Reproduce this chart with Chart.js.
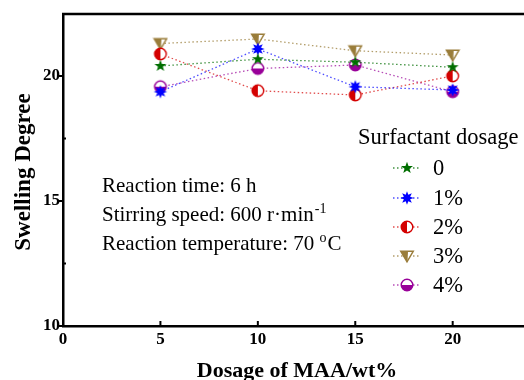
<!DOCTYPE html>
<html>
<head>
<meta charset="utf-8">
<script src="https://cdn.jsdelivr.net/npm/chart.js@4.4.0/dist/chart.umd.min.js"></script>
<style>
  html, body { margin: 0; padding: 0; background: #fff; overflow: hidden; }
  #wrap { width: 524px; height: 380px; }
</style>
</head>
<body>
<div id="wrap"><canvas id="swellChart" width="524" height="380"></canvas></div>
<script>
// data
const maaDosage = [5, 10, 15, 20];
const seriesNames = ['0', '1%', '2%', '3%', '4%'];
const swell0 = [20.40, 20.67, 20.55, 20.35];
const swell1 = [19.37, 21.08, 19.57, 19.44];
const swell2 = [20.88, 19.41, 19.24, 20.00];
const swell3 = [21.30, 21.48, 21.01, 20.84];
const swell4 = [19.57, 20.30, 20.44, 19.37];
const xTicks = [0, 5, 10, 15, 20];
const yTicks = [10, 15, 20];
const yMinorTicks = [12.5, 17.5];

const serif = '"Liberation Serif", "Times New Roman", serif';
const colors = ['#006e00', '#0000ff', '#d40000', '#9a7d3a', '#990099'];
const lineColors = ['rgba(0,110,0,0.75)', 'rgba(0,0,255,0.7)', 'rgba(212,0,0,0.7)', 'rgba(154,125,58,0.75)', 'rgba(153,0,153,0.7)'];

// markers drawn on small canvases
function makeMarker(kind, color) {
    const c = document.createElement('canvas');
    c.width = 16; c.height = 16;
    const g = c.getContext('2d');
    g.translate(8, 8);
    g.fillStyle = color;
    g.strokeStyle = color;
    g.lineWidth = 1.4;
    if (kind === 'star' || kind === 'aster') {
        const n = kind === 'star' ? 5 : 8;
        const ro = kind === 'star' ? 6.3 : 6.8;
        const ri = kind === 'star' ? 2.6 : 3.4;
        g.beginPath();
        for (let i = 0; i < n * 2; i++) {
            const r = i % 2 === 0 ? ro : ri;
            const a = -Math.PI / 2 + i * Math.PI / n;
            if (i === 0) g.moveTo(r * Math.cos(a), r * Math.sin(a));
            else g.lineTo(r * Math.cos(a), r * Math.sin(a));
        }
        g.closePath();
        g.fill();
    } else if (kind === 'halfLeft' || kind === 'halfBottom') {
        g.fillStyle = '#fff';
        g.beginPath(); g.arc(0, 0, 5.8, 0, Math.PI * 2); g.fill();
        g.fillStyle = color;
        g.beginPath();
        if (kind === 'halfLeft') g.arc(0, 0, 5.8, Math.PI / 2, Math.PI * 1.5);
        else g.arc(0, 0, 5.8, 0, Math.PI);
        g.closePath(); g.fill();
        g.beginPath(); g.arc(0, 0, 5.8, 0, Math.PI * 2); g.stroke();
    } else if (kind === 'triDown') {
        g.fillStyle = '#fff';
        g.beginPath(); g.moveTo(-6.3, -4.8); g.lineTo(6.3, -4.8); g.lineTo(0, 5.8); g.closePath(); g.fill();
        g.fillStyle = color;
        g.beginPath(); g.moveTo(-6.3, -4.8); g.lineTo(1, -4.8); g.lineTo(0.5, 5.3); g.lineTo(0, 5.8); g.closePath(); g.fill();
        g.beginPath(); g.moveTo(-6.3, -4.8); g.lineTo(6.3, -4.8); g.lineTo(0, 5.8); g.closePath(); g.stroke();
    }
    return c;
}
const markers = [
    makeMarker('star', colors[0]),
    makeMarker('aster', colors[1]),
    makeMarker('halfLeft', colors[2]),
    makeMarker('triDown', colors[3]),
    makeMarker('halfBottom', colors[4])
];

const allSeries = [swell0, swell1, swell2, swell3, swell4];
const datasets = allSeries.map((vals, i) => ({
    label: seriesNames[i],
    data: maaDosage.map((x, j) => ({ x: x, y: vals[j] })),
    borderColor: lineColors[i],
    borderWidth: 1.3,
    borderDash: [1.5, 2.5],
    pointStyle: markers[i],
    pointRadius: 7,
    fill: false,
    tension: 0
}));

// extra drawing: frame top, tick marks, titles, notes, legend
const decorPlugin = {
    id: 'decor',
    afterDraw(chart) {
        const ctx = chart.ctx;
        const a = chart.chartArea;
        const xs = chart.scales.x, ys = chart.scales.y;
        ctx.save();
        ctx.strokeStyle = '#000';
        ctx.lineWidth = 2.5;
        ctx.beginPath(); ctx.moveTo(a.left - 1, a.top); ctx.lineTo(chart.width, a.top); ctx.stroke();
        ctx.lineWidth = 2;
        yTicks.forEach(v => {
            const y = ys.getPixelForValue(v);
            ctx.beginPath(); ctx.moveTo(a.left - 6, y); ctx.lineTo(a.left, y); ctx.stroke();
        });
        yMinorTicks.forEach(v => {
            const y = ys.getPixelForValue(v);
            ctx.beginPath(); ctx.moveTo(a.left, y); ctx.lineTo(a.left + 3, y); ctx.stroke();
        });
        xTicks.slice(1).forEach(v => {
            const x = xs.getPixelForValue(v);
            ctx.beginPath(); ctx.moveTo(x, a.bottom); ctx.lineTo(x, a.bottom - 5); ctx.stroke();
        });

        ctx.fillStyle = '#000';
        ctx.font = 'bold 22px ' + serif;
        ctx.textAlign = 'center';
        ctx.textBaseline = 'alphabetic';
        ctx.fillText('Dosage of MAA/wt%', 297, 377);
        ctx.save();
        ctx.translate(30, 172);
        ctx.rotate(-Math.PI / 2);
        ctx.font = 'bold 23px ' + serif;
        ctx.fillText('Swelling Degree', 0, 0);
        ctx.restore();

        // reaction conditions
        ctx.textAlign = 'left';
        ctx.font = '21px ' + serif;
        ctx.fillText('Reaction time: 6 h', 102, 192);
        let t = 'Stirring speed: 600 r\u00b7min';
        ctx.fillText(t, 102, 221);
        let w = ctx.measureText(t).width;
        ctx.font = '14px ' + serif;
        ctx.fillText('-1', 102 + w + 1, 213);
        ctx.font = '21px ' + serif;
        t = 'Reaction temperature: 70 ';
        ctx.fillText(t, 102, 250);
        w = ctx.measureText(t).width;
        ctx.font = '14px ' + serif;
        ctx.fillText('o', 102 + w, 242);
        const ow = ctx.measureText('o').width;
        ctx.font = '21px ' + serif;
        ctx.fillText('C', 102 + w + ow + 1, 250);

        // legend
        ctx.font = '22.5px ' + serif;
        ctx.fillText('Surfactant dosage', 358, 144);
        const rows = [168, 198, 227, 256, 285];
        seriesNames.forEach((name, i) => {
            const y = rows[i];
            ctx.strokeStyle = lineColors[i];
            ctx.lineWidth = 1.3;
            ctx.setLineDash([1.5, 2.5]);
            ctx.beginPath(); ctx.moveTo(393, y); ctx.lineTo(421, y); ctx.stroke();
            ctx.setLineDash([]);
            ctx.drawImage(markers[i], 407 - 8, y - 8);
            ctx.fillStyle = '#000';
            ctx.fillText(name, 433, y + 7);
        });
        ctx.restore();
    }
};

const ctx = document.getElementById('swellChart').getContext('2d');
const swellChart = new Chart(ctx, {
    type: 'line',
    data: { datasets: datasets },
    options: {
        responsive: false,
        animation: false,
        devicePixelRatio: 1,
        layout: { autoPadding: false, padding: { left: 0, top: 14, right: 0, bottom: 0 } },
        plugins: { legend: { display: false }, tooltip: { enabled: false } },
        scales: {
            x: {
                type: 'linear',
                min: 0,
                max: 23.66,
                afterBuildTicks: s => { s.ticks = xTicks.map(v => ({ value: v })); },
                afterFit: s => { s.height = 54; s.paddingLeft = 0; s.paddingRight = 0; },
                grid: { display: false, drawTicks: false },
                border: { display: true, color: '#000', width: 2.5 },
                ticks: { color: '#000', padding: 3, maxRotation: 0, font: { family: serif, size: 17, weight: 'bold' } }
            },
            y: {
                type: 'linear',
                min: 10,
                max: 22.48,
                afterBuildTicks: s => { s.ticks = yTicks.map(v => ({ value: v })); },
                afterFit: s => { s.width = 63; s.paddingTop = 0; s.paddingBottom = 0; },
                grid: { display: false, drawTicks: false },
                border: { display: true, color: '#000', width: 2.5 },
                ticks: { color: '#000', padding: 3, font: { family: serif, size: 17, weight: 'bold' } }
            }
        }
    },
    plugins: [decorPlugin]
});
</script>
</body>
</html>
